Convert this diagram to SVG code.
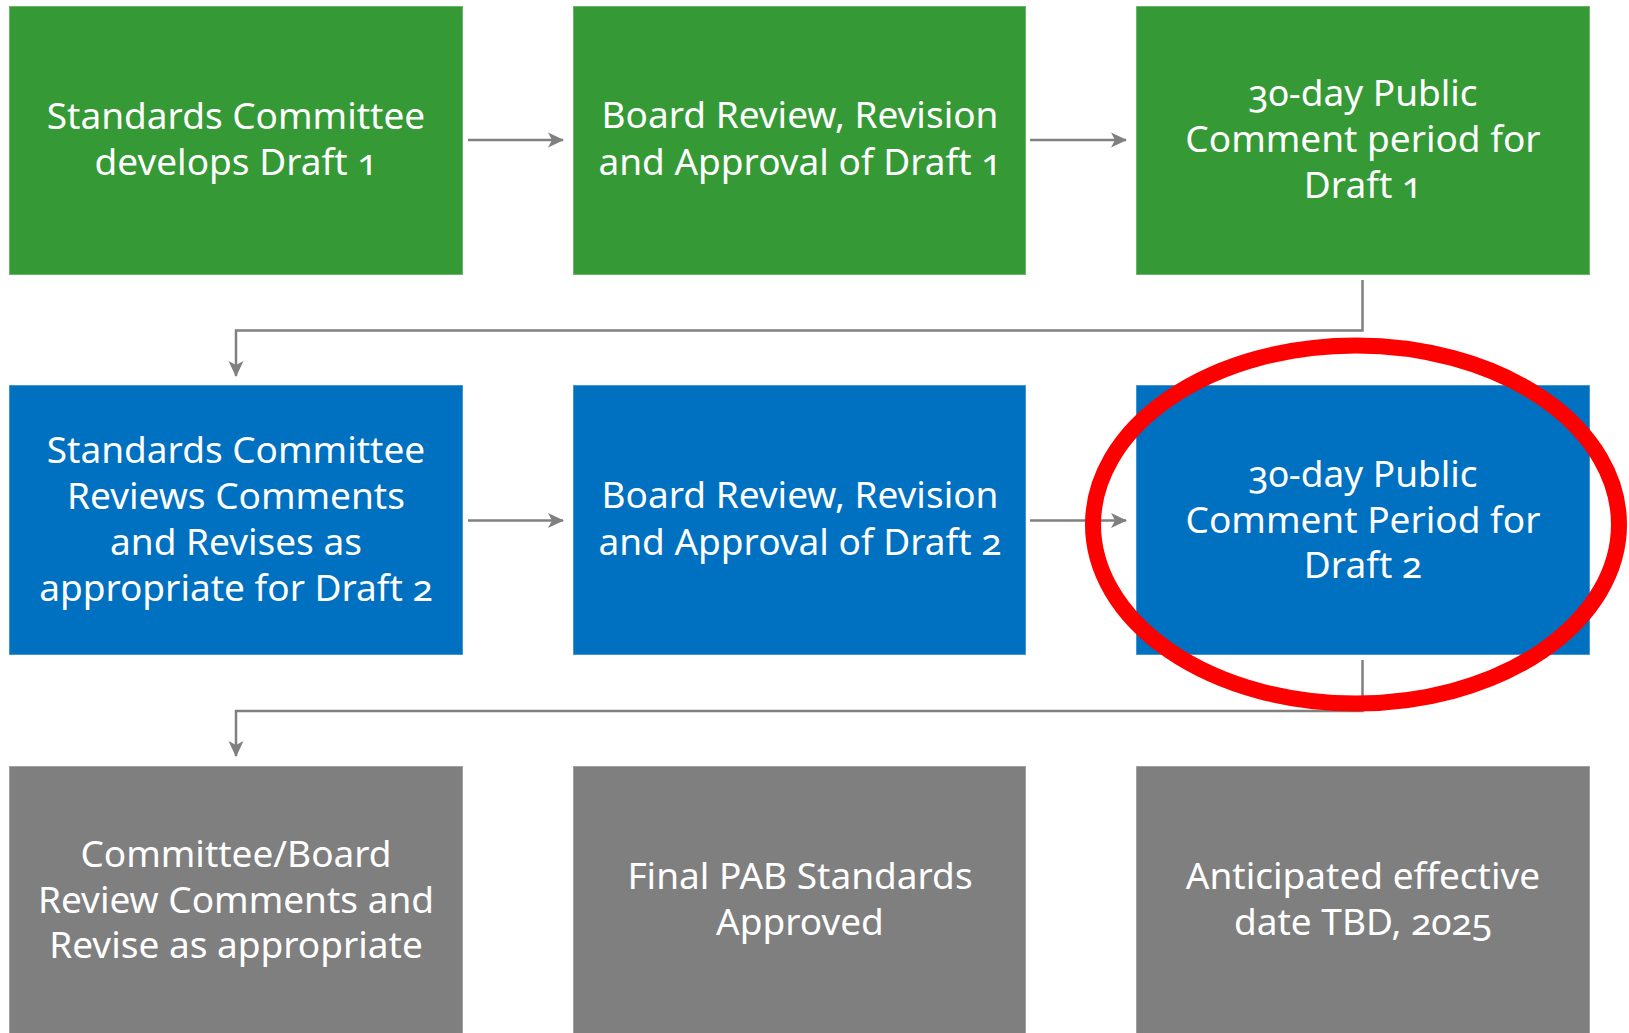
<svg xmlns="http://www.w3.org/2000/svg" width="1629" height="1033" viewBox="0 0 1629 1033">
  <style>
    .box { stroke: #ffffff; stroke-opacity: 0.35; stroke-width: 1.5; }
    .green { fill: #359a35; }
    .blue { fill: #0070c0; }
    .gray { fill: #7f7f7f; }
    .label { font-family: "Noto Sans", "Open Sans", "Liberation Sans", sans-serif; font-size: 37px; fill: #ffffff; text-anchor: middle; font-variant-numeric: oldstyle-nums; font-feature-settings: "onum" 1; }
    .conn { fill: none; stroke: #808080; stroke-width: 2.5; }
  </style>
  <defs>
    <marker id="arrow" viewBox="0 0 16 16" refX="15" refY="8" markerWidth="16" markerHeight="16" markerUnits="userSpaceOnUse" orient="auto">
      <path d="M0,0.5 L16,8 L0,15.5 L4,8 Z" fill="#808080"/>
    </marker>
  </defs>
  <rect width="1629" height="1033" fill="#ffffff"/>

  <!-- Row 1 -->
  <g id="n1">
    <rect class="box green" x="9" y="6" width="454" height="269"/>
    <text class="label" x="236" y="129">Standards Committee</text>
    <text class="label" x="236" y="175">develops Draft 1</text>
  </g>
  <g id="n2">
    <rect class="box green" x="573" y="6" width="453" height="269"/>
    <text class="label" x="800" y="128">Board Review, Revision</text>
    <text class="label" x="800" y="175">and Approval of Draft 1</text>
  </g>
  <g id="n3">
    <rect class="box green" x="1136" y="6" width="454" height="269"/>
    <text class="label" x="1363" y="106">30-day Public</text>
    <text class="label" x="1363" y="152">Comment period for</text>
    <text class="label" x="1363" y="198">Draft 1</text>
  </g>

  <!-- Row 2 -->
  <g id="n4">
    <rect class="box blue" x="9" y="385" width="454" height="270"/>
    <text class="label" x="236" y="463">Standards Committee</text>
    <text class="label" x="236" y="509">Reviews Comments</text>
    <text class="label" x="236" y="555">and Revises as</text>
    <text class="label" x="236" y="601">appropriate for Draft 2</text>
  </g>
  <g id="n5">
    <rect class="box blue" x="573" y="385" width="453" height="270"/>
    <text class="label" x="800" y="508">Board Review, Revision</text>
    <text class="label" x="800" y="555">and Approval of Draft 2</text>
  </g>
  <g id="n6">
    <rect class="box blue" x="1136" y="385" width="454" height="270"/>
    <text class="label" x="1363" y="487">30-day Public</text>
    <text class="label" x="1363" y="533">Comment Period for</text>
    <text class="label" x="1363" y="578">Draft 2</text>
  </g>

  <!-- Row 3 -->
  <g id="n7">
    <rect class="box gray" x="9" y="766" width="454" height="272"/>
    <text class="label" x="236" y="867">Committee/Board</text>
    <text class="label" x="236" y="913">Review Comments and</text>
    <text class="label" x="236" y="958">Revise as appropriate</text>
  </g>
  <g id="n8">
    <rect class="box gray" x="573" y="766" width="453" height="272"/>
    <text class="label" x="800" y="889">Final PAB Standards</text>
    <text class="label" x="800" y="935">Approved</text>
  </g>
  <g id="n9">
    <rect class="box gray" x="1136" y="766" width="454" height="272"/>
    <text class="label" x="1363" y="889">Anticipated effective</text>
    <text class="label" x="1363" y="935">date TBD, 2025</text>
  </g>

  <!-- Connectors -->
  <g id="connectors">
    <path class="conn" d="M468,140 L563,140" marker-end="url(#arrow)"/>
    <path class="conn" d="M1030,140 L1126,140" marker-end="url(#arrow)"/>
    <path class="conn" d="M1362.5,280 L1362.5,330.5 L236,330.5 L236,376" marker-end="url(#arrow)"/>
    <path class="conn" d="M468,520.5 L563,520.5" marker-end="url(#arrow)"/>
    <path class="conn" d="M1030,520.5 L1126,520.5" marker-end="url(#arrow)"/>
    <path class="conn" d="M1362.5,660 L1362.5,711 L236,711 L236,756" marker-end="url(#arrow)"/>
  </g>

  <!-- Highlight ring -->
  <g id="highlight">
    <ellipse cx="1356" cy="524.5" rx="263" ry="179" fill="none" stroke="#ff0000" stroke-width="16"/>
  </g>
</svg>
